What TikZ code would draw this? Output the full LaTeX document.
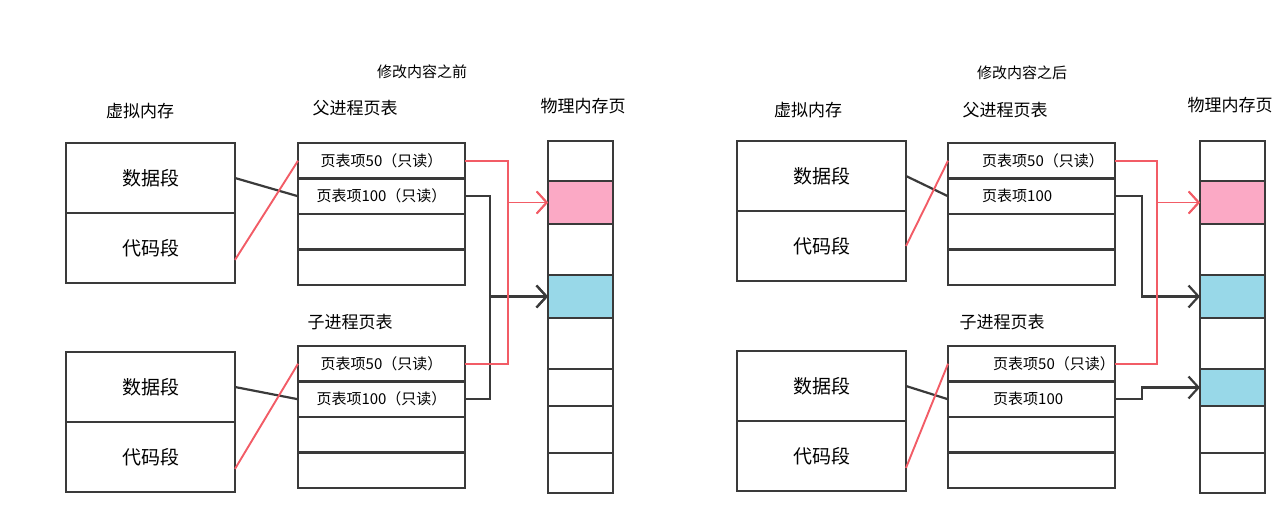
\documentclass[tikz,border=0pt]{standalone}
\usepackage{fontspec}
\setmainfont{Noto Sans CJK SC}
\usetikzlibrary{arrows.meta, positioning}

\definecolor{inkgray}{HTML}{3A3A3A}
\definecolor{cowred}{HTML}{F25C66}
\definecolor{pagepink}{HTML}{FBA9C5}
\definecolor{pageblue}{HTML}{98D8E8}

\begin{document}
\begin{tikzpicture}[
  x=1pt, y=-1pt,
  node distance=0pt,
  seg/.style={draw=inkgray, line width=2.4pt, inner sep=0pt, outer sep=0pt,
              minimum width=169pt, minimum height=70pt, font=\fontsize{19}{21}\selectfont},
  ptrow/.style={draw=inkgray, line width=2.4pt, inner sep=0pt, outer sep=0pt,
                minimum width=167pt, minimum height=35.5pt, font=\fontsize{15}{17}\selectfont},
  entry/.style={inner sep=0pt, font=\fontsize{15}{17}\selectfont},
  cell/.style={draw=inkgray, line width=2.4pt, inner sep=0pt, outer sep=0pt, minimum width=65pt},
  head/.style={font=\fontsize{17}{19}\selectfont},
  title/.style={font=\fontsize{15}{17}\selectfont},
  link/.style={inkgray, line width=2.2pt},
  cow/.style={cowred, line width=1.9pt},
  tip/.style={-{Straight Barb[length=10pt, width=22pt]}}
]
\useasboundingbox (0,0) rectangle (1288,505);

% before the write
\node[title] (t1) at (422,72) {修改内容之前};
\node[head] (vm1) at (140,111) {虚拟内存};
\node[head] (pp1) at (355,108) {父进程页表};
\node[head] (pm1) at (583,106) {物理内存页};
\node[head] (cp1) at (350,322) {子进程页表};

\node[seg, anchor=north west] (vd1) at (66,143) {数据段};
\node[seg, below=of vd1] (vc1) {代码段};
\node[seg, anchor=north west] (cvd1) at (66,352) {数据段};
\node[seg, below=of cvd1] (cvc1) {代码段};

\node[ptrow, anchor=north west] (pa1) at (298,143) {页表项50（只读）};
\node[ptrow, below=of pa1] (pb1) {页表项100（只读）};
\node[ptrow, below=of pb1] (pc1) {};
\node[ptrow, below=of pc1] (pd1) {};
\node[ptrow, anchor=north west] (ca1) at (298,346) {页表项50（只读）};
\node[ptrow, below=of ca1] (cb1) {页表项100（只读）};
\node[ptrow, below=of cb1] (cc1) {};
\node[ptrow, below=of cc1] (cd1) {};

\foreach \t/\b/\c [count=\i] in {141/181/white, 181/224/pagepink, 224/275/white,
    275/318/pageblue, 318/369/white, 369/406/white, 406/453/white, 453/493/white}
  \node[cell, fill=\c, minimum height={\b-\t}, anchor=north west] (ma\i) at (548,\t) {};

\draw[link] (vd1.east) -- (pb1.west);
\draw[link] (cvd1.east) -- (cb1.west);
\draw[cow] (vc1.-8) -- (pa1.west);
\draw[cow] (cvc1.-8) -- (ca1.west);

\draw[link, tip] (pb1.east) -- ++(25,0) |- (ma4.west);
\draw[link, tip] (cb1.east) -- ++(25,0) |- (ma4.west);
\draw[cow, tip] (pa1.east) -- ++(43,0) |- (ma2.west);
\draw[cow, tip] (ca1.east) -- ++(43,0) |- (ma2.west);

% after the write
\node[title] (t2) at (1022,73) {修改内容之后};
\node[head] (vm2) at (808,110) {虚拟内存};
\node[head] (pp2) at (1005,110) {父进程页表};
\node[head] (pm2) at (1230,105) {物理内存页};
\node[head] (cp2) at (1002,322) {子进程页表};

\node[seg, anchor=north west] (vd2) at (737,141) {数据段};
\node[seg, below=of vd2] (vc2) {代码段};
\node[seg, anchor=north west] (cvd2) at (737,351) {数据段};
\node[seg, below=of cvd2] (cvc2) {代码段};

\node[ptrow, anchor=north west] (pa2) at (948,143) {};
\node[ptrow, below=of pa2] (pb2) {};
\node[ptrow, below=of pb2] (pc2) {};
\node[ptrow, below=of pc2] (pd2) {};
\node[ptrow, anchor=north west] (ca2) at (948,346) {};
\node[ptrow, below=of ca2] (cb2) {};
\node[ptrow, below=of cb2] (cc2) {};
\node[ptrow, below=of cc2] (cd2) {};

\node[entry, right=34pt of pa2.west] (pa2t) {页表项50（只读）};
\node[entry, right=34pt of pb2.west] (pb2t) {页表项100};
\node[entry, right=45pt of ca2.west] (ca2t) {页表项50（只读）};
\node[entry, right=45pt of cb2.west] (cb2t) {页表项100};

\foreach \t/\b/\c [count=\i] in {141/181/white, 181/224/pagepink, 224/275/white,
    275/318/pageblue, 318/369/white, 369/406/pageblue, 406/453/white, 453/493/white}
  \node[cell, fill=\c, minimum height={\b-\t}, anchor=north west] (mb\i) at (1200,\t) {};

\draw[link] (vd2.east) -- (pb2.west);
\draw[link] (cvd2.east) -- (cb2.west);
\draw[cow] (vc2.east) -- (pa2.west);
\draw[cow] (cvc2.-8) -- (ca2.west);

\draw[link, tip] (pb2.east) -- ++(27,0) |- (mb4.west);
\draw[link, tip] (cb2.east) -- ++(27,0) |- (mb6.west);
\draw[cow, tip] (pa2.east) -- ++(42,0) |- (mb2.west);
\draw[cow, tip] (ca2.east) -- ++(42,0) |- (mb2.west);
\end{tikzpicture}
\end{document}
